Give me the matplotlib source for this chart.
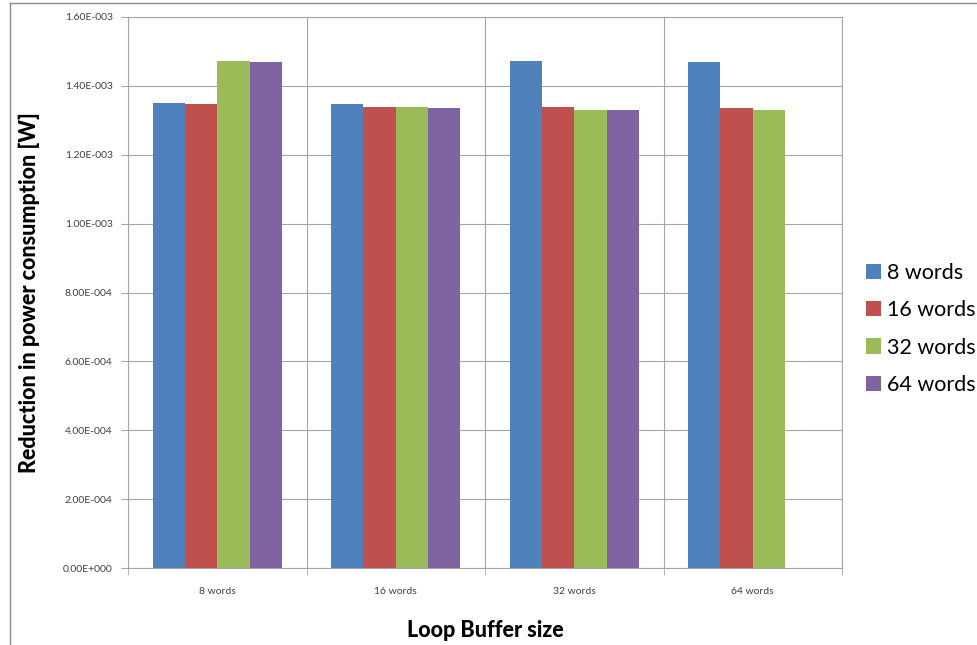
import matplotlib
matplotlib.use('Agg')
import matplotlib.pyplot as plt
from matplotlib.patches import Patch
from matplotlib.lines import Line2D
import numpy as np

plt.rcParams['font.family'] = ['Lato', 'DejaVu Sans']

# Data
categories = ['8 words', '16 words', '32 words', '64 words']
series_names = ['8 words', '16 words', '32 words', '64 words']
vals_8 = [1.349e-3, 1.346e-3, 1.473e-3, 1.469e-3]
vals_16 = [1.346e-3, 1.339e-3, 1.339e-3, 1.337e-3]
vals_32 = [1.473e-3, 1.339e-3, 1.330e-3, 1.330e-3]
vals_64 = [1.469e-3, 1.337e-3, 1.331e-3, 0.0]
series_vals = [vals_8, vals_16, vals_32, vals_64]
y_ticks = [0, 2e-4, 4e-4, 6e-4, 8e-4, 1e-3, 1.2e-3, 1.4e-3, 1.6e-3]
y_ticklabels = ['0.00E+000', '2.00E-004', '4.00E-004', '6.00E-004', '8.00E-004',
                '1.00E-003', '1.20E-003', '1.40E-003', '1.60E-003']

colors = ['#4F81BD', '#C0504D', '#9BBB59', '#8064A2']
grid_c = '#A6A6A6'

fig = plt.figure(figsize=(9.78, 6.45), dpi=100)
ax = fig.add_axes([128/978, 1-568/645, 714/978, 551/645])

x = np.arange(len(categories))
bw = 0.181
for i, (vals, c) in enumerate(zip(series_vals, colors)):
    ax.bar(x + (i - 1.5) * bw, vals, width=bw, color=c, zorder=3)

ax.set_xlim(-0.5, len(categories) - 0.5)
ax.set_ylim(0, 1.6e-3)
ax.set_yticks(y_ticks)
ax.set_yticklabels(y_ticklabels)
ax.set_xticks(x)
ax.set_xticklabels(categories)
ax.set_xticks(np.arange(-0.5, len(categories)), minor=True)

ax.grid(axis='y', color=grid_c, lw=0.8, zorder=0)
ax.grid(axis='x', which='minor', color=grid_c, lw=0.8, zorder=0)
ax.tick_params(axis='y', length=5, color=grid_c, labelsize=7.5, labelcolor='#404040', pad=6)
ax.tick_params(axis='x', which='major', length=0, labelsize=7.5, labelcolor='#404040', pad=14)
ax.tick_params(axis='x', which='minor', length=5, color=grid_c)
for s in ax.spines.values():
    s.set_color(grid_c)
    s.set_linewidth(0.8)

ax.set_ylabel('Reduction in power consumption [W]', fontsize=15.5, fontweight='black')
ax.yaxis.set_label_coords(-0.123, 0.5)
ax.set_xlabel('Loop Buffer size', fontsize=15.5, fontweight='black')
ax.xaxis.set_label_coords(0.5, -0.094)

handles = [Patch(facecolor=c, edgecolor='none') for c in colors]
fig.legend(handles, series_names, loc='center left', bbox_to_anchor=(0.874, 0.49),
           frameon=False, fontsize=15.5, handlelength=0.7, handleheight=0.7,
           handletextpad=0.3, labelspacing=0.8, borderpad=0)

# chart area border
fig.add_artist(Line2D([10/978, 10/978], [0, 1-3/645], color='#8C8C8C', lw=1))
fig.add_artist(Line2D([10/978, 1], [1-3/645, 1-3/645], color='#8C8C8C', lw=1))

fig.savefig('out.png', dpi=100, facecolor='white')
